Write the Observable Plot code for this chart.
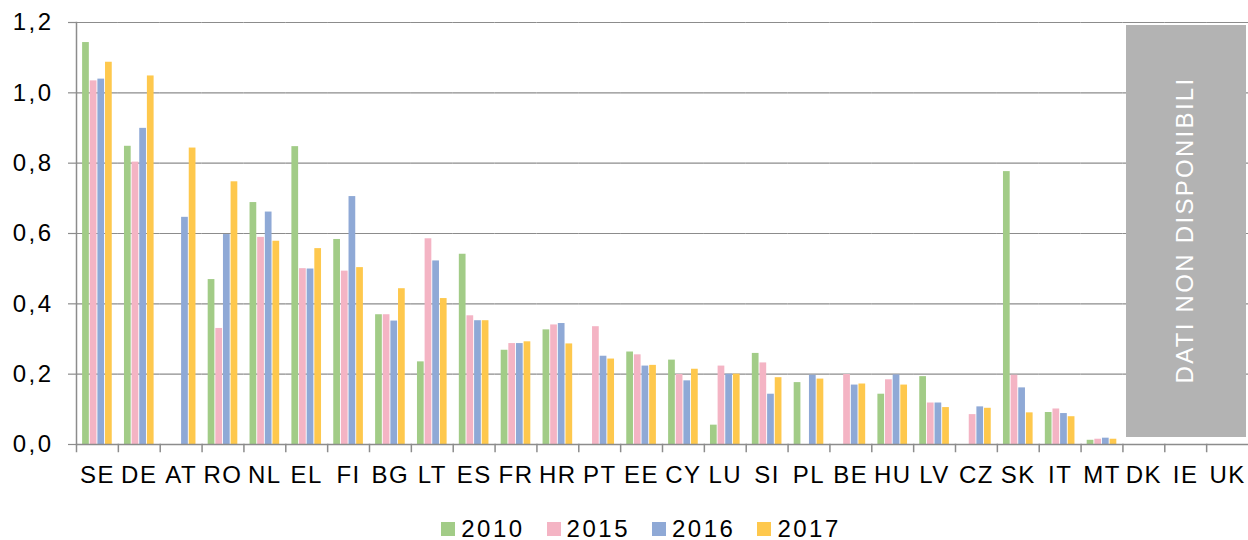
<!DOCTYPE html>
<html>
<head>
<meta charset="utf-8">
<script src="https://cdn.jsdelivr.net/npm/d3@7"></script>
<script src="https://cdn.jsdelivr.net/npm/@observablehq/plot@0.6"></script>
<style>
  html, body { margin: 0; padding: 0; background: #fff; overflow: hidden; }
  #chart svg { display: block; }
  #chart g[aria-label="y-axis tick label"] text { letter-spacing: 2.5px; }
  #chart g[aria-label="fx-axis tick label"] text { letter-spacing: 1.5px; }
  #chart g[aria-label="text"] text { letter-spacing: 2.3px; }
  .legend { display: flex; justify-content: center; align-items: center; padding-left: 34px;
            font-family: "Liberation Sans", Arial, sans-serif; font-size: 24px; letter-spacing: 2.5px;
            color: #000; margin-top: 4px; height: 29px; }
  .legend .item { display: flex; align-items: center; margin: 0 11px; }
  .legend .sw { width: 14px; height: 14px; margin-right: 6px; }
</style>
</head>
<body>
<div id="chart"></div>
<script>
const countries = ["SE","DE","AT","RO","NL","EL","FI","BG","LT","ES","FR","HR","PT","EE","CY","LU","SI","PL","BE","HU","LV","CZ","SK","IT","MT","DK","IE","UK"];
const years = ["2010","2015","2016","2017"];
const v2010 = [1.143,0.848,null,0.469,0.688,0.847,0.583,0.369,0.235,0.541,0.268,0.326,null,0.263,0.240,0.055,0.259,0.176,null,0.143,0.193,null,0.776,0.091,0.012,null,null,null];
const v2015 = [1.034,0.803,null,0.330,0.589,0.500,0.493,0.369,0.585,0.366,0.287,0.340,0.335,0.255,0.199,0.223,0.232,null,0.199,0.184,0.118,0.085,0.197,0.101,0.015,null,null,null];
const v2016 = [1.039,0.899,0.646,0.597,0.661,0.499,0.705,0.351,0.522,0.352,0.287,0.344,0.251,0.223,0.181,0.200,0.143,0.197,0.169,0.198,0.118,0.107,0.161,0.088,0.018,null,null,null];
const v2017 = [1.087,1.048,0.843,0.747,0.578,0.557,0.503,0.443,0.415,0.352,0.292,0.286,0.243,0.225,0.214,0.200,0.190,0.186,0.172,0.169,0.105,0.103,0.090,0.079,0.015,null,null,null];
const yTicks = [0, 0.2, 0.4, 0.6, 0.8, 1.0, 1.2];
const colors = ["#a2cc87", "#f4b4c4", "#8fa9d6", "#fec84d"];
const naCountries = ["DK", "IE", "UK"];
const naLabel = "DATI NON DISPONIBILI";

const series = [v2010, v2015, v2016, v2017];
const data = [];
countries.forEach((c, i) => years.forEach((y, j) => data.push({country: c, year: y, value: series[j][i]})));

const H = 510, MT = 22, MB = 66;
const grid = "#8c8c8c";
const fmt = d => d.toFixed(1).replace(".", ",");

const chart = Plot.plot({
  width: 1248, height: H,
  marginLeft: 76, marginRight: 0, marginTop: MT, marginBottom: MB,
  style: {fontFamily: "'Liberation Sans', Arial, sans-serif", fontSize: "24px", color: "#000", background: "#fff"},
  fx: {domain: countries, padding: 0, round: false, axis: null, label: null},
  x: {domain: years, paddingInner: 0.12, paddingOuter: 0.8, round: false, axis: null},
  y: {domain: [0, 1.2], axis: null},
  color: {domain: years, range: colors},
  marks: [
    Plot.gridY(yTicks, {stroke: grid, strokeOpacity: 1, strokeWidth: 1.2}),
    Plot.rect([naCountries[0]], {fx: d => d, y1: 0, y2: 1.2, fill: "#b3b3b3", insetLeft: 4, insetTop: 3, insetBottom: 7, shapeRendering: "crispEdges"}),
    Plot.rect([naCountries[1]], {fx: d => d, y1: 0, y2: 1.2, fill: "#b3b3b3", insetTop: 3, insetBottom: 7, shapeRendering: "crispEdges"}),
    Plot.rect([naCountries[2]], {fx: d => d, y1: 0, y2: 1.2, fill: "#b3b3b3", insetRight: 2, insetTop: 3, insetBottom: 7, shapeRendering: "crispEdges"}),
    Plot.text([naLabel], {fx: () => naCountries[1], y: 0.61, text: d => d, rotate: -90, fill: "white", fontSize: 24}),
    Plot.barY(data, {fx: "country", x: "year", y: "value", fill: "year"}),
    Plot.ruleY([0], {stroke: grid, strokeWidth: 1.5}),
    Plot.frame({anchor: "left", stroke: grid, strokeWidth: 1.5, insetTop: H - MT - MB, insetBottom: -7}),
    Plot.frame({anchor: "left", facetAnchor: "left", stroke: grid, strokeWidth: 1.5}),
    Plot.axisY(yTicks, {tickFormat: fmt, tickSize: 8, tickPadding: 15, stroke: grid, strokeWidth: 1.2, fontSize: 24, label: null}),
    Plot.axisFx({anchor: "bottom", tickSize: 0, tickPadding: 21, fontSize: 24, label: null})
  ]
});
document.getElementById("chart").appendChild(chart);

const legend = document.createElement("div");
legend.className = "legend";
years.forEach((y, j) => {
  const it = document.createElement("div");
  it.className = "item";
  it.innerHTML = `<span class="sw" style="background:${colors[j]}"></span><span>${y}</span>`;
  legend.appendChild(it);
});
document.getElementById("chart").appendChild(legend);
</script>
</body>
</html>
